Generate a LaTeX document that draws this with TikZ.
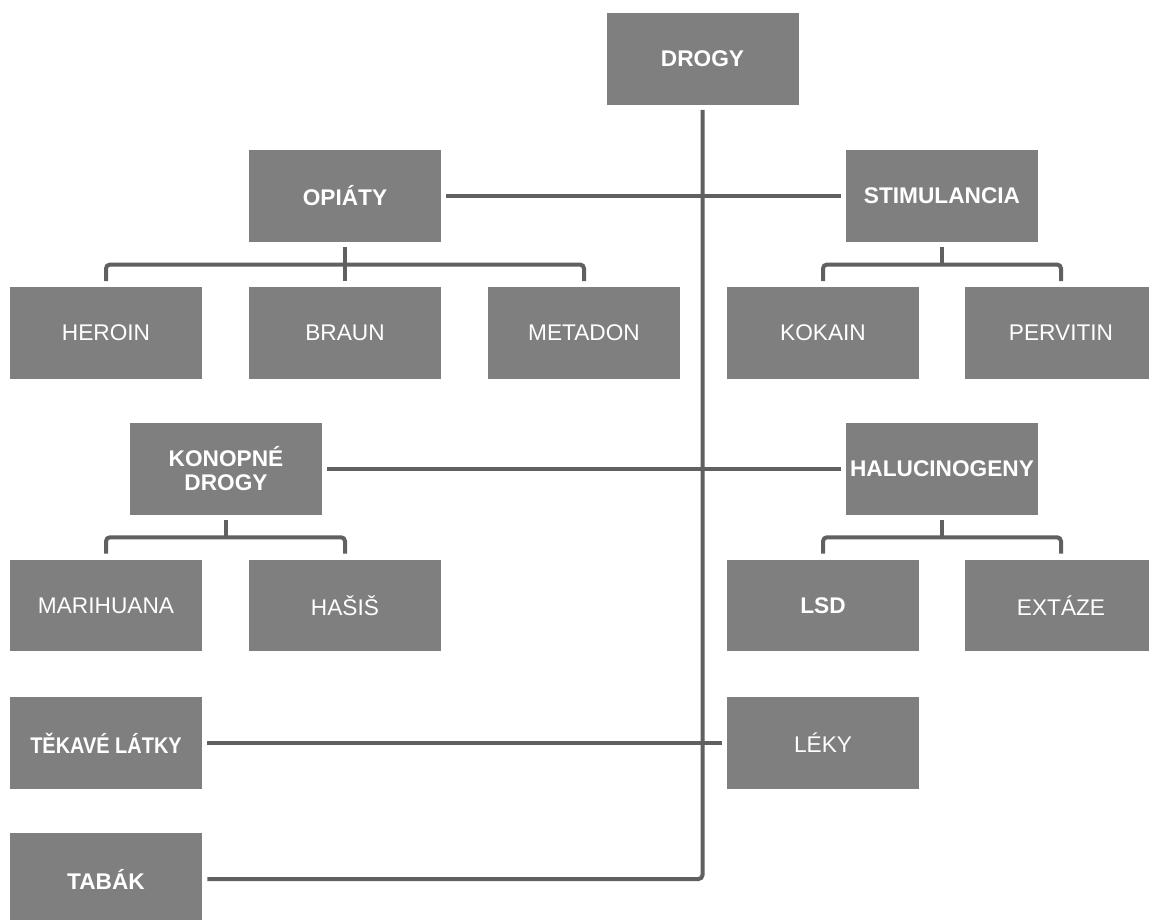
\documentclass[tikz,border=0pt]{standalone}
\usepackage{fontspec}
\usepackage{graphicx}
\setmainfont{Liberation Sans}
\usetikzlibrary{calc}
\definecolor{boxgray}{RGB}{127,127,127}
\definecolor{linegray}{RGB}{96,96,96}
\begin{document}
\begin{tikzpicture}[x=0.75pt,y=-0.75pt,
  box/.style={fill=boxgray, draw=none, minimum width=144pt, minimum height=68.5pt,
    inner sep=0pt, text=white, align=center, font=\fontsize{17}{18}\selectfont},
  bbox/.style={box, font=\fontsize{17}{18}\selectfont\bfseries},
  conn/.style={draw=linegray, line width=3pt, rounded corners=3pt}]
\clip (0,0) rectangle (1149,920);
\fill[white] (0,0) rectangle (1149,920);

% nodes
\node[bbox] (drogy) at (702.5,59) {DROGY};
\node[bbox] (opiaty) at (345,196) {OPIÁTY};
\node[bbox] (stim) at (942,196) {STIMULANCIA};
\node[box] (heroin) at (106,333) {HEROIN};
\node[box] (braun) at (345,333) {BRAUN};
\node[box] (metadon) at (584,333) {METADON};
\node[box] (kokain) at (823,333) {KOKAIN};
\node[box] (pervitin) at (1061,333) {PERVITIN};
\node[bbox] (konop) at (226,469) {KONOPNÉ\\DROGY};
\node[bbox] (haluc) at (942,469) {HALUCINOGENY};
\node[box] (marihuana) at (106,605.5) {MARIHUANA};
\node[box] (hasis) at (345,605.5) {HAŠIŠ};
\node[bbox] (lsd) at (823,605.5) {LSD};
\node[box] (extaze) at (1061,605.5) {EXTÁZE};
\node[bbox] (tekave) at (106,743) {\scalebox{0.88}[1]{TĚKAVÉ LÁTKY}};
\node[box] (leky) at (823,743) {LÉKY};
\node[bbox] (tabak) at (106,879) {TABÁK};

% trunk
\draw[conn] ($(drogy.south)+(0,5)$) |- ($(tabak.east)+(5,0)$);

% horizontal links across trunk
\draw[conn] ($(opiaty.east)+(5,0)$) -- ($(stim.west)+(-5,0)$);
\draw[conn] ($(konop.east)+(5,0)$) -- ($(haluc.west)+(-5,0)$);
\draw[conn] ($(tekave.east)+(5,0)$) -- ($(leky.west)+(-5,0)$);

% OPIATY bus
\coordinate (obus) at ($(opiaty.south)!0.5!(braun.north)$);
\draw[conn] ($(opiaty.south)+(0,5)$) -- (obus);
\draw[conn] ($(heroin.north)+(0,-6)$) |- (metadon.north |- obus) -- ($(metadon.north)+(0,-6)$);
\draw[conn] (obus) -- ($(braun.north)+(0,-6)$);

% STIMULANCIA bus
\coordinate (sbus) at ($(stim.south)!0.5!(kokain.north)$);
\draw[conn] ($(stim.south)+(0,5)$) -- (stim.south |- sbus);
\draw[conn] ($(kokain.north)+(0,-6)$) |- (pervitin.north |- sbus) -- ($(pervitin.north)+(0,-6)$);

% KONOPNE bus
\coordinate (kbus) at ($(konop.south)!0.5!(marihuana.north)$);
\draw[conn] ($(konop.south)+(0,5)$) -- (konop.south |- kbus);
\draw[conn] ($(marihuana.north)+(0,-6)$) |- (hasis.north |- kbus) -- ($(hasis.north)+(0,-6)$);

% HALUCINOGENY bus
\coordinate (hbus) at ($(haluc.south)!0.5!(lsd.north)$);
\draw[conn] ($(haluc.south)+(0,5)$) -- (haluc.south |- hbus);
\draw[conn] ($(lsd.north)+(0,-6)$) |- (extaze.north |- hbus) -- ($(extaze.north)+(0,-6)$);
\end{tikzpicture}
\end{document}
